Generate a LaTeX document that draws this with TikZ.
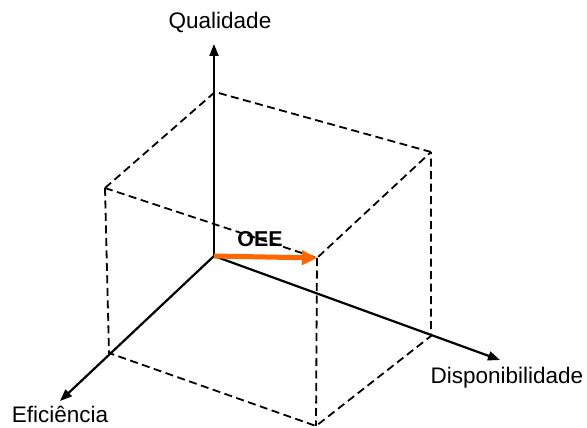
\documentclass[tikz,border=0pt]{standalone}
\usepackage{fontspec}
\setmainfont{Liberation Sans}
\usetikzlibrary{arrows.meta}
\definecolor{oeeorange}{RGB}{255,102,0}
\begin{document}
\begin{tikzpicture}[x=1pt,y=-1pt,
  axis/.style={line width=2.2pt,-{Triangle[length=12pt,width=9pt]}},
  edge/.style={line width=1.8pt,dash pattern=on 8pt off 4.5pt},
  lbl/.style={font=\fontsize{22.5}{26}\selectfont,inner sep=0pt}]
\useasboundingbox (0,0) rectangle (587,428);
% axes
\coordinate (O) at (214,256);
\coordinate (Qtip) at (214,44);
\coordinate (Etip) at (60,401);
\coordinate (Dtip) at (500,360);
% cube corners
\coordinate (TB) at (215,92);
\coordinate (TL) at (105,188);
\coordinate (TR) at (431,152);
\coordinate (TF) at (317,258);
\coordinate (BL) at (109,353);
\coordinate (BR) at (431,336);
\coordinate (BF) at (316,426);
% dashed cube
\draw[edge] (TL) -- (TB) -- (TR);
\draw[edge] (TL) -- (TF) -- (TR);
\draw[edge] (TL) -- (BL) -- (BF) -- (BR) -- (TR);
\draw[edge] (TF) -- (BF);
% axes
\draw[axis] (O) -- (Qtip);
\draw[axis] (O) -- (Etip);
\draw[axis] (O) -- (Dtip);
% OEE arrow
\draw[line width=5pt,oeeorange,-{Triangle[length=15pt,width=14pt]}] (O) -- (TF);
% labels
\node[lbl] (q) at (220,22) {Qualidade};
\node[lbl] (e) at (60,414) {Eficiência};
\node[lbl] (d) at (507,378) {Disponibilidade};
\node[lbl,font=\fontsize{21.5}{24}\selectfont\bfseries] (oee) at (260,239) {OEE};
\end{tikzpicture}
\end{document}
